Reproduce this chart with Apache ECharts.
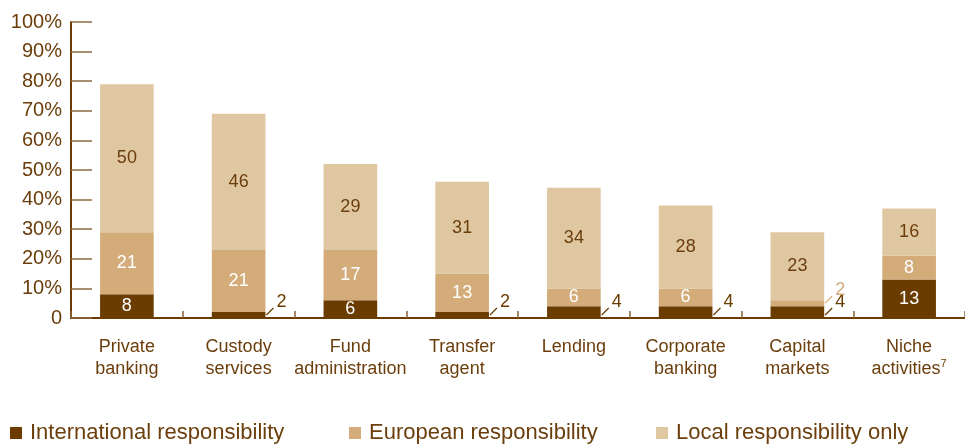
<!DOCTYPE html>
<html>
<head>
<meta charset="utf-8">
<script src="https://cdn.jsdelivr.net/npm/echarts@6/dist/echarts.min.js"></script>
<style>
  html, body { margin: 0; padding: 0; background: #ffffff; }
  #chart { width: 965px; height: 446px; }
</style>
</head>
<body>
<div id="chart"></div>
<script>
// Share of responsibility by business line (%)
const categories = ['Private\nbanking', 'Custody\nservices', 'Fund\nadministration', 'Transfer\nagent',
  'Lending', 'Corporate\nbanking', 'Capital\nmarkets', 'Niche\nactivities'];
const footnotes = ['', '', '', '', '', '', '', '7'];
const international = [8, 2, 6, 2, 4, 4, 4, 13];
const european = [21, 21, 17, 13, 6, 6, 2, 8];
const local = [50, 46, 29, 31, 34, 28, 23, 16];
const seriesNames = ['International responsibility', 'European responsibility', 'Local responsibility only'];
const yTicks = [0, 10, 20, 30, 40, 50, 60, 70, 80, 90, 100];

const DARK = '#6a3c00';
const MID = '#d3ac79';
const LIGHT = '#dfc7a2';
const TEXT = '#6b3e0c';
const NARROW = '"Liberation Sans Narrow", "Arial Narrow", "Liberation Sans", sans-serif';
const SANS = '"Liberation Sans", Arial, sans-serif';
const SMALL = 5; // segments below this are labelled beside the bar

// Segments too thin for an inside label get a leader line and an outside label
const leaderData = [];
categories.forEach((c, i) => {
  if (international[i] < SMALL) leaderData.push([i, 0, international[i], 0]);
  if (european[i] < SMALL) leaderData.push([i, international[i], european[i], 1]);
});

function insideLabel(color) {
  return {
    show: true,
    position: 'inside',
    color: color,
    fontFamily: NARROW,
    fontSize: 18,
    formatter: p => (p.value < SMALL ? '' : String(p.value))
  };
}

const chart = echarts.init(document.getElementById('chart'), null, { renderer: 'canvas' });

chart.setOption({
  animation: false,
  backgroundColor: '#ffffff',
  grid: { left: 71, right: -2, top: 22, bottom: 128, containLabel: false },
  legend: seriesNames.map((n, k) => ({
    data: [n],
    left: [5, 344, 651][k],
    top: 417,
    icon: 'rect',
    itemWidth: 12,
    itemHeight: 12,
    selectedMode: false,
    textStyle: { color: TEXT, fontFamily: SANS, fontSize: 22, lineHeight: 22, padding: [0, 0, 0, 3] }
  })),
  xAxis: {
    type: 'category',
    data: categories,
    boundaryGap: true,
    axisLine: { lineStyle: { color: DARK, width: 2 } },
    axisTick: { show: true, inside: true, length: 7, lineStyle: { color: '#8a6238', width: 1.5 } },
    axisLabel: {
      interval: 0,
      margin: 18,
      color: TEXT,
      fontFamily: NARROW,
      fontSize: 18,
      lineHeight: 22,
      formatter: (v, i) => footnotes[i] ? v + '{sup|' + footnotes[i] + '}' : v,
      rich: {
        sup: { fontSize: 11, fontFamily: NARROW, color: TEXT, verticalAlign: 'top', lineHeight: 22, padding: [0, 0, 8, 0] }
      }
    }
  },
  yAxis: {
    type: 'value',
    min: 0,
    max: 100,
    interval: 10,
    splitLine: { show: false },
    axisLine: { show: true, lineStyle: { color: DARK, width: 2 } },
    axisTick: { show: true, inside: true, length: 21, lineStyle: { color: '#8f6a42', width: 1.5 } },
    axisLabel: {
      margin: 9,
      color: TEXT,
      fontFamily: SANS,
      fontSize: 20,
      formatter: v => (yTicks.indexOf(v) === 0 ? '0' : v + '%')
    }
  },
  series: [
    {
      name: seriesNames[0], type: 'bar', stack: 'total', data: international,
      barWidth: '48%', itemStyle: { color: DARK }, label: insideLabel('#ffffff')
    },
    {
      name: seriesNames[1], type: 'bar', stack: 'total', data: european,
      barWidth: '48%', itemStyle: { color: MID }, label: insideLabel('#ffffff')
    },
    {
      name: seriesNames[2], type: 'bar', stack: 'total', data: local,
      barWidth: '48%', itemStyle: { color: LIGHT }, label: insideLabel(TEXT)
    },
    {
      name: 'leaders',
      type: 'custom',
      silent: true,
      data: leaderData,
      encode: { x: 0, y: 2 },
      renderItem: (params, api) => {
        const i = api.value(0), base = api.value(1), v = api.value(2), kind = api.value(3);
        const basePt = api.coord([i, base]);
        const topPt = api.coord([i, base + v]);
        const halfW = api.size([1, 0])[0] * 0.48 / 2;
        const x0 = basePt[0] + halfW + 1;
        const y0 = Math.max(topPt[1] + 1, basePt[1] - 3);
        const col = kind === 0 ? DARK : MID;
        return {
          type: 'group',
          children: [
            { type: 'line', shape: { x1: x0, y1: y0, x2: x0 + 7, y2: y0 - 7 },
              style: { stroke: col, lineWidth: 1.2 } },
            { type: 'text', x: x0 + 10, y: y0 - 13,
              style: { text: String(v), fill: col, font: '18px ' + NARROW, textAlign: 'left', textVerticalAlign: 'middle' } }
          ]
        };
      }
    }
  ]
});
</script>
</body>
</html>
